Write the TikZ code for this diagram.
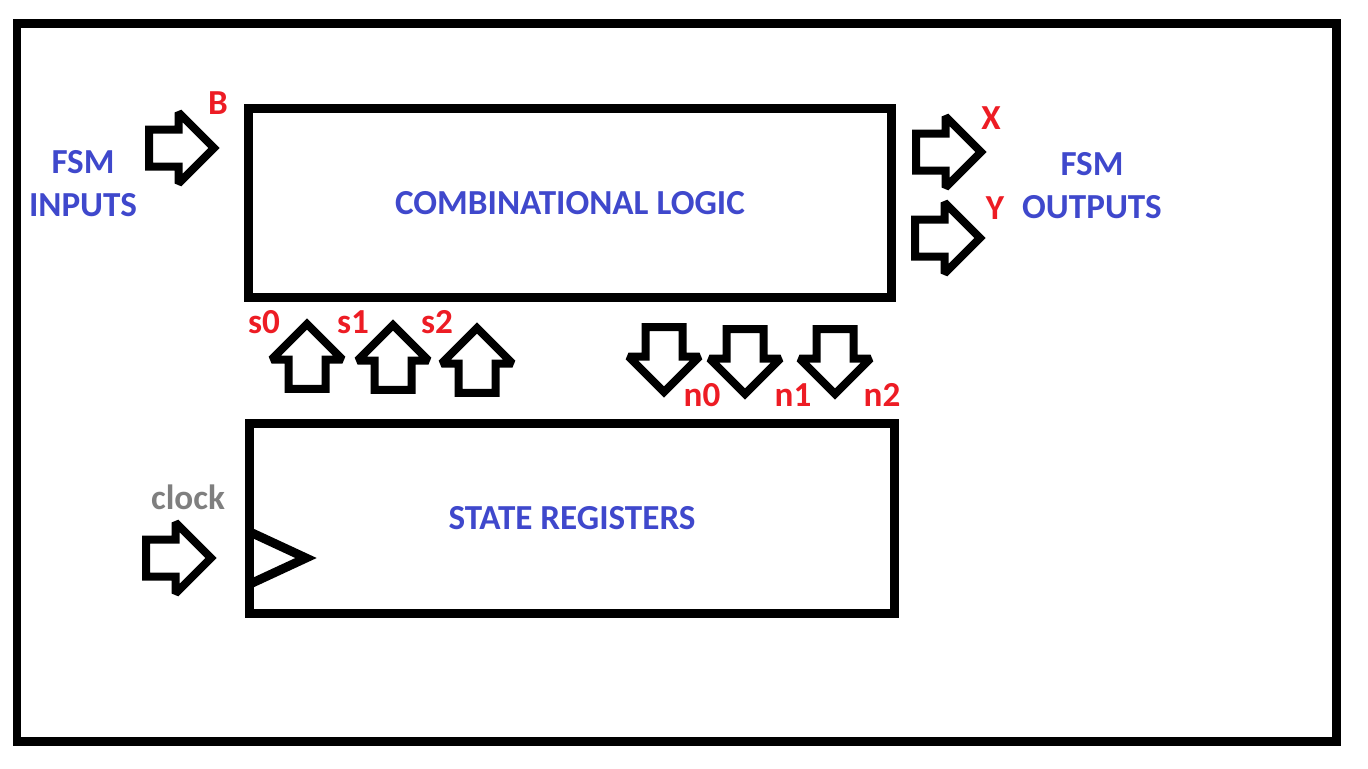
\documentclass[tikz,border=0pt]{standalone}
\usepackage{fontspec}
\setmainfont{Carlito}
\usepackage{tikz}
\usetikzlibrary{shapes.arrows}
\definecolor{fsmblue}{RGB}{63,72,204}
\definecolor{fsmred}{RGB}{237,28,36}
\definecolor{fsmgray}{RGB}{127,127,127}
\tikzset{
    block/.style={draw, line width=0.18cm, inner sep=0pt, text=fsmblue, font=\bfseries\fontsize{20}{24.4}\selectfont}, % boxes
    bus/.style={draw, line width=0.16cm, miter limit=1.5, single arrow, single arrow head extend=0.34cm, inner xsep=0pt, inner ysep=0.29cm, minimum height=1.3cm, outer sep=0pt, anchor=tip},
    sig/.style={text=fsmred, inner sep=0pt, font=\bfseries\fontsize{20}{24}\selectfont},
    io/.style={text=fsmblue, align=center, inner sep=0pt, font=\bfseries\fontsize{20}{24.4}\selectfont}
}

\begin{document}
\begin{tikzpicture}[x=0.02cm, y=-0.02cm]
	\useasboundingbox (0,0) rectangle (1368,768);
	\draw[line width=0.18cm] (17,23) rectangle (1336.5,741.5);

	\node (comb) [block, minimum width=12.87cm, minimum height=3.79cm] at (570,203) {COMBINATIONAL LOGIC};
	\node (reg) [block, minimum width=12.89cm, minimum height=3.82cm] at (572,518.5) {STATE REGISTERS};
	\draw[line width=0.18cm, line join=miter] (250,532) -- (306,558) -- (250,584);

	\node (in) [io] at (83,183.5) {FSM\\INPUTS};
	\node (out) [io] at (1092,186) {FSM\\OUTPUTS};

	\node (arrB) [bus] at (214,148) {};
	\node (arrX) [bus] at (981,152) {};
	\node (arrY) [bus] at (980,238) {};
	\node (arrclk) [bus] at (211,558) {};
	\node (arrs0) [bus, rotate=90] at (307,324) {};
	\node (arrs1) [bus, rotate=90] at (393,325) {};
	\node (arrs2) [bus, rotate=90] at (477,328) {};
	\node (arrn0) [bus, rotate=-90] at (664,392) {};
	\node (arrn1) [bus, rotate=-90] at (745,394) {};
	\node (arrn2) [bus, rotate=-90] at (835,394) {};

	\node (B) [sig] at (218,103) {B};
	\node (X) [sig] at (991,118) {X};
	\node (Y) [sig] at (995,208) {Y};
	\node (s0) [sig] at (264,322) {s0};
	\node (s1) [sig] at (353,322) {s1};
	\node (s2) [sig] at (437,322) {s2};
	\node (n0) [sig] at (702,395) {n0};
	\node (n1) [sig] at (793,395) {n1};
	\node (n2) [sig] at (882,395) {n2};
	\node (clk) [sig, text=fsmgray] at (188,497.5) {clock};
\end{tikzpicture}
\end{document}
